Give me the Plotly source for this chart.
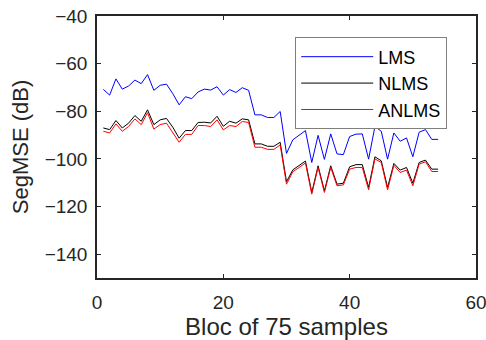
import plotly.graph_objects as go

blocks = list(range(1, 55))

lms = [-70.8, -73.2, -66.4, -70.7, -69.4, -66.9, -68.4, -64.6, -71.2, -69.1,
       -68.6, -72.6, -77.3, -73.9, -74.7, -71.9, -70.7, -71.1, -69.7, -73.2,
       -70.9, -72.1, -70.1, -71.2, -81.5, -81.5, -82.6, -82.6, -80.1, -97.7,
       -92.0, -90.1, -88.1, -101.5, -90.1, -100.2, -89.5, -97.9, -98.2, -90.6,
       -89.6, -89.5, -100.1, -86.4, -88.4, -100.1, -89.1, -92.6, -91.2, -99.1,
       -88.8, -87.7, -91.8, -91.8]

nlms = [-87.0, -87.7, -83.9, -87.0, -85.0, -81.8, -84.2, -79.4, -85.6, -83.6,
        -83.0, -86.7, -91.3, -88.1, -88.1, -84.7, -84.6, -84.9, -82.1, -86.3,
        -84.2, -85.0, -83.2, -83.6, -93.7, -93.7, -94.7, -94.7, -93.0, -109.6,
        -104.6, -102.6, -100.9, -114.1, -102.9, -113.4, -102.9, -110.6, -110.2, -103.3,
        -102.4, -102.4, -112.0, -99.1, -100.8, -112.0, -101.9, -104.7, -103.6, -110.2,
        -101.5, -100.5, -104.3, -104.3]

anlms = [-88.4, -89.1, -85.3, -88.4, -86.4, -83.2, -85.6, -80.6, -87.5, -85.6,
         -85.0, -88.8, -93.0, -89.7, -89.7, -86.0, -86.0, -86.4, -83.6, -87.8,
         -86.0, -86.4, -84.3, -84.7, -95.1, -95.1, -96.0, -96.0, -94.1, -110.6,
         -105.4, -103.6, -101.7, -114.8, -103.6, -114.1, -103.6, -111.3, -110.9, -104.3,
         -103.6, -103.6, -113.0, -100.0, -101.5, -113.0, -102.7, -105.7, -104.7, -111.3,
         -102.2, -101.2, -105.3, -105.3]

names = ["LMS", "NLMS", "ANLMS"]
colors = ["#0000ff", "#000000", "#ff0000"]

fig = go.Figure()
for nm, ys, c in zip(names, [lms, nlms, anlms], colors):
    fig.add_trace(go.Scatter(x=blocks, y=ys, mode="lines", name=nm,
                             line=dict(color=c, width=1)))

FONT = "Liberation Sans, Arial, sans-serif"

axis_common = dict(
    showline=True, linecolor="#262626", linewidth=1.5, mirror="ticks",
    ticks="inside", ticklen=4, tickcolor="#262626", tickwidth=1,
    showgrid=False, zeroline=False, automargin=False,
    ticklabeloverflow="allow",
    tickfont=dict(family=FONT, size=19, color="#262626"),
)

fig.update_layout(
    width=486, height=340,
    margin=dict(l=97, r=10, t=16, b=62),
    paper_bgcolor="white", plot_bgcolor="white",
    font=dict(family=FONT, color="#262626"),
    xaxis=dict(range=[0, 60], tick0=0, dtick=20, ticklabelstandoff=6,
               title=dict(text="Bloc of 75 samples", font=dict(size=24), standoff=4),
               **axis_common),
    yaxis=dict(range=[-150, -40], tick0=-40, dtick=20, ticklabelstandoff=4,
               title=dict(text="SegMSE (dB)", font=dict(size=22), standoff=10),
               **axis_common),
    legend=dict(x=0.523, y=0.918, xanchor="left", yanchor="top",
                bordercolor="#7f7f7f", borderwidth=1, bgcolor="white",
                font=dict(family=FONT, size=18, color="#000000"),
                itemwidth=72),
    showlegend=True,
)

fig.write_html("out.html")
